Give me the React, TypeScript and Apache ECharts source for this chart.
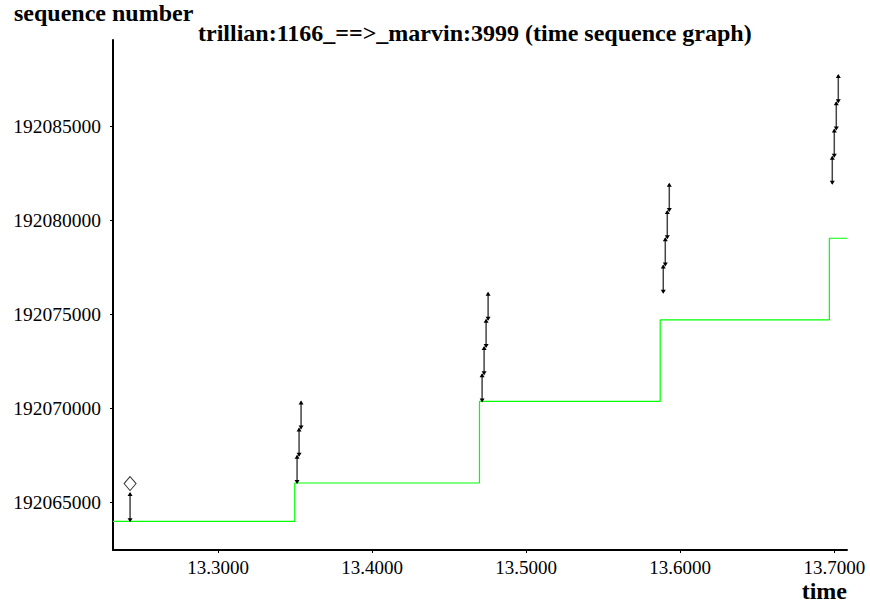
import React, { useEffect, useRef } from "react";
import * as echarts from "echarts";

// ---- data ----
const xTickValues = [13.3, 13.4, 13.5, 13.6, 13.7];
const yTickValues = [192065000, 192070000, 192075000, 192080000, 192085000];

// data segments: time, start seq, end seq
const segTimes = [
  13.2429,
  13.3513, 13.3526, 13.3539,
  13.4714, 13.4727, 13.474, 13.4753,
  13.589, 13.5903, 13.5916, 13.5929,
  13.6987, 13.7, 13.7013, 13.7026,
];
const segStarts = [
  192063988,
  192066028, 192067476, 192068924,
  192070372, 192071820, 192073268, 192074716,
  192076164, 192077612, 192079060, 192080508,
  192081956, 192083404, 192084852, 192086300,
];
const segEnds = [
  192065500,
  192067476, 192068924, 192070372,
  192071820, 192073268, 192074716, 192076164,
  192077612, 192079060, 192080508, 192081956,
  192083404, 192084852, 192086300, 192087748,
];

// ack line (step)
const ackTimes = [13.23182, 13.3498, 13.4697, 13.587, 13.6968, 13.70825];
const ackSeqs = [192063988, 192066028, 192070372, 192074716, 192079060, 192079060];

// diamond marker
const markTimes = [13.2429];
const markSeqs = [192066000];

const X_MIN = 13.23182;
const X_MAX = 13.70825;
const Y_MIN = 192062460;
const Y_MAX = 192089617;

const SERIF = "Liberation Serif";

export default function App() {
  const ref = useRef<HTMLDivElement>(null);
  useEffect(() => {
    if (!ref.current) return;
    const chart = echarts.init(ref.current, undefined, { renderer: "svg" });
    const boldText = (text: string) => ({
      text,
      fontFamily: SERIF,
      fontWeight: "bold",
      fontSize: 24,
      fill: "#000",
    });
    const option: any = {
      animation: false,
      backgroundColor: "#ffffff",
      grid: { left: 113, right: 23, top: 40, bottom: 57 },
      xAxis: {
        type: "value",
        min: X_MIN,
        max: X_MAX,
        axisLine: { show: true, onZero: false, lineStyle: { color: "#000", width: 2 } },
        axisTick: { show: true, length: 3, customValues: xTickValues, lineStyle: { color: "#000", width: 1 } },
        axisLabel: {
          customValues: xTickValues,
          formatter: (v: number) => v.toFixed(4),
          color: "#000",
          fontFamily: SERIF,
          fontSize: 19,
          margin: 8,
        },
        splitLine: { show: false },
      },
      yAxis: {
        type: "value",
        min: Y_MIN,
        max: Y_MAX,
        axisLine: { show: true, onZero: false, lineStyle: { color: "#000", width: 2 } },
        axisTick: { show: true, length: 3, customValues: yTickValues, lineStyle: { color: "#000", width: 1 } },
        axisLabel: {
          customValues: yTickValues,
          formatter: (v: number) => String(v),
          color: "#000",
          fontFamily: SERIF,
          fontSize: 19.5,
          margin: 12,
        },
        splitLine: { show: false },
      },
      graphic: [
        { type: "text", left: 14, top: 1, style: boldText("sequence number") },
        {
          type: "text",
          left: 198,
          top: 21,
          style: boldText("trillian:1166_==>_marvin:3999 (time sequence graph)"),
        },
        { type: "text", right: 23, top: 579, style: boldText("time") },
      ],
      series: [
        {
          type: "line",
          step: "end",
          data: ackTimes.map((t, i) => [t, ackSeqs[i]]),
          showSymbol: false,
          lineStyle: { color: "#00ff00", width: 1.2 },
          silent: true,
          z: 2,
        },
        {
          type: "custom",
          data: segTimes.map((t, i) => [t, segStarts[i], segEnds[i]]),
          encode: { x: 0, y: [1, 2] },
          z: 3,
          renderItem: (params: any, api: any) => {
            const t = api.value(0);
            const p0 = api.coord([t, api.value(1)]);
            const p1 = api.coord([t, api.value(2)]);
            return {
              type: "group",
              children: [
                {
                  type: "line",
                  shape: { x1: p0[0], y1: p0[1], x2: p1[0], y2: p1[1] },
                  style: { stroke: "#444", lineWidth: 1.5 },
                },
                {
                  type: "polygon",
                  shape: { points: [[p1[0], p1[1] - 1], [p1[0] - 2.5, p1[1] + 3], [p1[0] + 2.5, p1[1] + 3]] },
                  style: { fill: "#000" },
                },
                {
                  type: "polygon",
                  shape: { points: [[p0[0], p0[1] + 1], [p0[0] - 2.5, p0[1] - 3], [p0[0] + 2.5, p0[1] - 3]] },
                  style: { fill: "#000" },
                },
              ],
            };
          },
        },
        {
          type: "scatter",
          data: markTimes.map((t, i) => [t, markSeqs[i]]),
          symbol: "diamond",
          symbolSize: [12, 14],
          itemStyle: { color: "#fff", borderColor: "#000", borderWidth: 1 },
          z: 4,
        },
      ],
    };
    chart.setOption(option);
    return () => chart.dispose();
  }, []);
  return (
    <div
      ref={ref}
      style={{ position: "fixed", left: 0, top: 0, width: 870, height: 607, background: "#fff" }}
    />
  );
}
